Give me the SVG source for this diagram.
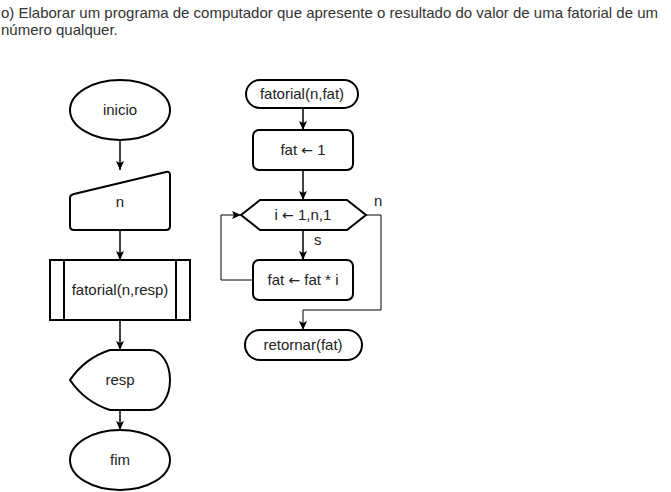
<svg xmlns="http://www.w3.org/2000/svg" width="671" height="492" viewBox="0 0 671 492">
<defs>
<style>
.s{fill:#fff;stroke:#000;stroke-width:2}
.t{font-family:"Liberation Sans",Arial,sans-serif;font-size:15px;fill:#222;text-anchor:middle}
.a{font-family:"DejaVu Sans",sans-serif;font-size:14px}
.lbl{font-family:"Liberation Sans",Arial,sans-serif;font-size:15px;fill:#222}
.title{font-family:"Liberation Sans",Arial,sans-serif;font-size:15px;fill:#333}
.c{fill:none;stroke:#000;stroke-width:1.5}
</style>
<marker id="ah" markerWidth="10" markerHeight="10" refX="9" refY="5" orient="auto" markerUnits="userSpaceOnUse">
<path d="M0,1 L9,5 L0,9 L2,5 Z" fill="#000"/>
</marker>
</defs>
<rect width="671" height="492" fill="#fff"/>
<g id="title">
<text class="title" x="1" y="18">o) Elaborar um programa de computador que apresente o resultado do valor de uma fatorial de um</text>
<text class="title" x="1" y="35">número qualquer.</text>
</g>
<g id="connectors">
<path class="c" d="M120,140 V170" marker-end="url(#ah)"/>
<path class="c" d="M120,230 V260" marker-end="url(#ah)"/>
<path class="c" d="M120,320 V350" marker-end="url(#ah)"/>
<path class="c" d="M120,410 V430" marker-end="url(#ah)"/>
<path class="c" d="M303,108 V130" marker-end="url(#ah)"/>
<path class="c" d="M303,170 V200" marker-end="url(#ah)"/>
<path class="c" d="M303,230 V260" marker-end="url(#ah)"/>
<path class="c" style="stroke-width:1" d="M253,280 H221 V215 H241" marker-end="url(#ah)"/>
<path class="c" style="stroke-width:1" d="M366,215 H381 V310 H303 V330" marker-end="url(#ah)"/>
<text class="lbl" x="374" y="206">n</text>
<text class="lbl" x="314" y="245">s</text>
</g>
<g id="inicio">
<ellipse class="s" cx="120" cy="110" rx="50" ry="30"/>
<text class="t" x="120" y="115">inicio</text>
</g>
<g id="entrada">
<path class="s" stroke-linejoin="round" d="M74,194 L166,172 Q170,171 170,175 V226 Q170,230 166,230 H74 Q70,230 70,226 V198 Q70,195 74,194 Z"/>
<text class="t" x="120" y="207">n</text>
</g>
<g id="subrotina">
<rect class="s" x="50" y="260" width="140" height="60"/>
<path class="s" d="M64,260 V320 M176,260 V320"/>
<text class="t" x="120" y="295">fatorial(n,resp)</text>
</g>
<g id="saida">
<path class="s" d="M110,350 H150 A20,30 0 0 1 150,410 H110 Q85,402 70,380 Q85,358 110,350 Z"/>
<text class="t" x="120" y="385">resp</text>
</g>
<g id="fim">
<ellipse class="s" cx="120" cy="460" rx="50" ry="30"/>
<text class="t" x="120" y="465">fim</text>
</g>
<g id="fatorial">
<rect class="s" x="246" y="80" width="112" height="28" rx="14"/>
<text class="t" x="302" y="99">fatorial(n,fat)</text>
</g>
<g id="fat1">
<rect class="s" x="253" y="130" width="100" height="40" rx="6"/>
<text class="t" x="303" y="155">fat <tspan class="a">←</tspan> 1</text>
</g>
<g id="para">
<path class="s" d="M241,215 L260,200 H347 L366,215 L347,230 H260 Z"/>
<text class="t" x="303" y="220">i <tspan class="a">←</tspan> 1,n,1</text>
</g>
<g id="fatmult">
<rect class="s" x="253" y="260" width="100" height="40" rx="6"/>
<text class="t" x="303" y="285">fat <tspan class="a">←</tspan> fat * i</text>
</g>
<g id="retornar">
<rect class="s" x="245" y="330" width="117" height="30" rx="15"/>
<text class="t" x="303" y="350">retornar(fat)</text>
</g>
</svg>
